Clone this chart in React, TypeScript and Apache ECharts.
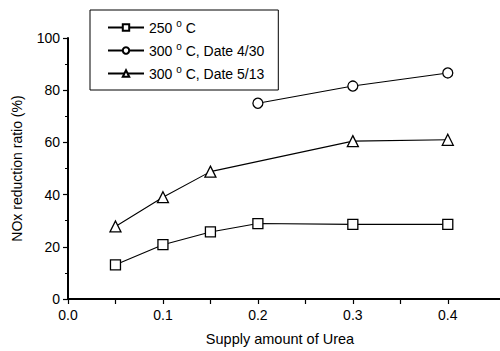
import React, { useEffect, useRef } from "react";
import * as echarts from "echarts";

const xCategories = [0.05, 0.1, 0.15, 0.2, 0.3, 0.4];
const s250 = [13.1, 20.8, 25.7, 28.9, 28.6, 28.6];
const s300a: (number | null)[] = [null, null, null, 75.0, 81.6, 86.6];
const s300b: (number | null)[] = [27.8, 39.0, 48.8, null, 60.5, 61.0];
const xLabelValues = [0, 0.1, 0.2, 0.3, 0.4];
const xTickValues = [0, 0.05, 0.1, 0.15, 0.2, 0.25, 0.3, 0.35, 0.4];
const seriesNames = ["250 {s|o} C", "300 {s|o} C, Date 4/30", "300 {s|o} C, Date 5/13"];

const FONT = "'Liberation Sans', Arial, Helvetica, sans-serif";

export default function App() {
  const ref = useRef<HTMLDivElement>(null);
  useEffect(() => {
    if (!ref.current) return;
    const chart = echarts.init(ref.current, undefined, { renderer: "svg" });
    const pairs = (arr: (number | null)[]) =>
      xCategories.map((x, i) => [x, arr[i]]).filter((p) => p[1] !== null);
    const lineStyle = { color: "#000", width: 1.1 };
    const itemStyle = { color: "#fff", borderColor: "#000", borderWidth: 1.3 };
    chart.setOption({
      animation: false,
      backgroundColor: "#fff",
      textStyle: { fontFamily: FONT },
      grid: { left: 68, right: 0, top: 38, bottom: 49, containLabel: false },
      legend: {
        orient: "vertical",
        left: 90,
        top: 10,
        padding: [8, 14, 7, 17],
        borderColor: "#000",
        borderWidth: 1,
        itemWidth: 36,
        itemHeight: 8,
        itemGap: 4,
        textStyle: {
          fontFamily: FONT,
          fontSize: 14,
          color: "#000",
          lineHeight: 16,
          rich: {
            s: { fontSize: 10, lineHeight: 16, padding: [0, 0, 9, 0], fontFamily: FONT, color: "#000" },
          },
        },
        data: seriesNames,
      },
      xAxis: [
        {
          type: "value",
          min: 0,
          max: 0.455,
          interval: 0.1,
          name: "Supply amount of Urea",
          nameLocation: "middle",
          nameGap: 32,
          nameTextStyle: { fontFamily: FONT, fontSize: 14.5, color: "#000", padding: [0, 0, 0, -8] },
          axisLine: { show: true, lineStyle: { color: "#000", width: 2 } },
          axisTick: { show: true, length: 5, lineStyle: { color: "#000", width: 1.2 }, customValues: xTickValues },
          axisLabel: {
            fontFamily: FONT,
            fontSize: 14,
            color: "#000",
            margin: 9,
            customValues: xLabelValues,
            formatter: (v: number) => v.toFixed(1),
          },
          splitLine: { show: false },
        },
      ],
      yAxis: {
        type: "value",
        min: 0,
        max: 100,
        interval: 20,
        name: "NOx reduction ratio (%)",
        nameLocation: "middle",
        nameGap: 44,
        nameTextStyle: { fontFamily: FONT, fontSize: 14, color: "#000" },
        axisLine: { show: true, lineStyle: { color: "#000", width: 2 } },
        axisTick: { show: true, length: 5, lineStyle: { color: "#000", width: 1.2 } },
        minorTick: { show: true, splitNumber: 2, length: 3, lineStyle: { color: "#000", width: 1 } },
        axisLabel: { fontFamily: FONT, fontSize: 14, color: "#000", margin: 8 },
        splitLine: { show: false },
        minorSplitLine: { show: false },
      },
      series: [
        {
          name: seriesNames[0],
          type: "line",
          data: pairs(s250),
          symbol: "rect",
          symbolSize: 10,
          lineStyle,
          itemStyle,
        },
        {
          name: seriesNames[1],
          type: "line",
          data: pairs(s300a),
          symbol: "circle",
          symbolSize: 10,
          lineStyle,
          itemStyle,
        },
        {
          name: seriesNames[2],
          type: "line",
          data: pairs(s300b),
          symbol: "triangle",
          symbolSize: 11,
          lineStyle,
          itemStyle,
        },
      ],
    });
    return () => chart.dispose();
  }, []);
  return <div ref={ref} style={{ width: 500, height: 351, position: "absolute", left: 0, top: 0 }} />;
}
